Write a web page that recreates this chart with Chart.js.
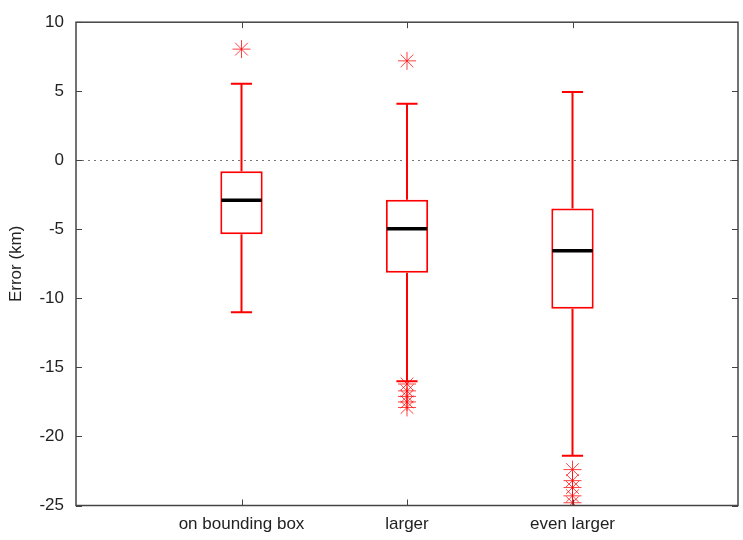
<!DOCTYPE html>
<html>
<head>
<meta charset="utf-8">
<script src="https://cdn.jsdelivr.net/npm/chart.js@4/dist/chart.umd.min.js"></script>
<style>
html,body{margin:0;padding:0;background:#fff;}
#wrap{width:743px;height:540px;}
</style>
</head>
<body>
<div id="wrap"><canvas id="c" width="743" height="540"></canvas></div>
<script>
const categories = ['on bounding box', 'larger', 'even larger'];
const whiskerLow  = [-11.0, -16.0, -21.4];
const q1          = [-5.35, -8.15, -10.75];
const median      = [-2.9, -4.95, -6.55];
const q3          = [-0.8, -2.85, -3.5];
const whiskerHigh = [5.55, 4.1, 4.95];
const outliers1 = [8.05];
const outliers2 = [7.2, -16.2, -16.7, -17.1, -17.5, -17.9];
const outliers3 = [-22.4, -23.2, -23.7, -24.3, -24.8];
const yTicks = [-25, -20, -15, -10, -5, 0, 5, 10];
const yTitle = 'Error (km)';

const labels = [''].concat(categories, ['']);
const outlierPoints = [];
[outliers1, outliers2, outliers3].forEach((arr, i) => {
  arr.forEach(v => outlierPoints.push({x: categories[i], y: v}));
});

const RED = '#ff0000';
const FONT = {family: "'Liberation Sans', Arial, sans-serif", size: 17};

const boxPlugin = {
  id: 'boxExtras',
  beforeDatasetsDraw(chart) {
    const {ctx, chartArea: a, scales: {x, y}} = chart;
    ctx.save();
    ctx.strokeStyle = '#777';
    ctx.lineWidth = 1;
    ctx.setLineDash([2, 4]);
    const y0 = Math.round(y.getPixelForValue(0)) + 0.5;
    ctx.beginPath(); ctx.moveTo(a.left, y0); ctx.lineTo(a.right, y0); ctx.stroke();
    ctx.restore();
    ctx.save();
    ctx.strokeStyle = RED;
    ctx.lineWidth = 2;
    const meta = chart.getDatasetMeta(0);
    categories.forEach((c, i) => {
      const bar = meta.data[i + 1];
      const cx = x.getPixelForValue(i + 1);
      const half = bar ? bar.width / 4 : 10;
      const yl = y.getPixelForValue(whiskerLow[i]);
      const yh = y.getPixelForValue(whiskerHigh[i]);
      ctx.beginPath();
      ctx.moveTo(cx, y.getPixelForValue(q3[i])); ctx.lineTo(cx, yh);
      ctx.moveTo(cx, y.getPixelForValue(q1[i])); ctx.lineTo(cx, yl);
      ctx.moveTo(cx - half, yh); ctx.lineTo(cx + half, yh);
      ctx.moveTo(cx - half, yl); ctx.lineTo(cx + half, yl);
      ctx.stroke();
    });
    ctx.restore();
  },
  afterDatasetsDraw(chart) {
    const {ctx, scales: {x, y}} = chart;
    const meta = chart.getDatasetMeta(0);
    ctx.save();
    ctx.strokeStyle = '#000';
    ctx.lineWidth = 3.5;
    categories.forEach((c, i) => {
      const bar = meta.data[i + 1];
      const cx = x.getPixelForValue(i + 1);
      const hw = bar.width / 2;
      const ym = y.getPixelForValue(median[i]);
      ctx.beginPath(); ctx.moveTo(cx - hw + 1, ym); ctx.lineTo(cx + hw - 1, ym); ctx.stroke();
    });
    ctx.restore();
  },
  afterDraw(chart) {
    const {ctx, chartArea: a, scales: {x, y}} = chart;
    ctx.save();
    ctx.strokeStyle = '#444';
    ctx.lineWidth = 1.5;
    ctx.strokeRect(a.left, a.top, a.right - a.left, a.bottom - a.top);
    ctx.lineWidth = 1;
    ctx.beginPath();
    y.ticks.forEach(t => {
      const py = Math.round(y.getPixelForValue(t.value)) + 0.5;
      ctx.moveTo(a.left, py); ctx.lineTo(a.left + 6, py);
      ctx.moveTo(a.right, py); ctx.lineTo(a.right - 6, py);
    });
    categories.forEach((c, i) => {
      const px = Math.round(x.getPixelForValue(i + 1)) + 0.5;
      ctx.moveTo(px, a.bottom); ctx.lineTo(px, a.bottom - 6);
      ctx.moveTo(px, a.top); ctx.lineTo(px, a.top + 6);
    });
    ctx.stroke();
    ctx.restore();
  }
};

new Chart(document.getElementById('c'), {
  type: 'bar',
  data: {
    labels: labels,
    datasets: [
      {
        type: 'bar',
        data: [null].concat(categories.map((c, i) => [q1[i], q3[i]]), [null]),
        backgroundColor: '#ffffff',
        borderColor: RED,
        borderWidth: 2,
        borderSkipped: false,
        categoryPercentage: 1,
        barPercentage: 0.256,
        order: 2
      },
      {
        type: 'scatter',
        data: outlierPoints,
        pointStyle: 'star',
        pointRadius: 9,
        pointBorderWidth: 1,
        borderColor: 'rgba(255,0,0,0.75)',
        backgroundColor: 'rgba(255,0,0,0.75)',
        order: 1
      }
    ]
  },
  options: {
    responsive: false,
    animation: false,
    events: [],
    layout: {autoPadding: false, padding: {top: 21, right: 5, left: 0, bottom: 0}},
    plugins: {legend: {display: false}, tooltip: {enabled: false}},
    scales: {
      x: {
        type: 'category',
        offset: false,
        grid: {display: false, drawTicks: false},
        border: {display: false},
        ticks: {autoSkip: false, maxRotation: 0, minRotation: 0, padding: 9, color: '#222', font: FONT},
        afterFit(s) { s.height = 34.5; s.paddingRight = 0; s.paddingLeft = 0; }
      },
      y: {
        type: 'linear',
        min: -25, max: 10,
        grid: {display: false, drawTicks: false},
        border: {display: false},
        afterBuildTicks(s) { s.ticks = yTicks.map(v => ({value: v})); },
        ticks: {padding: 12, color: '#222', font: FONT},
        title: {display: true, text: yTitle, color: '#222', font: FONT, padding: {top: 6, bottom: 0}},
        afterFit(s) { s.width = 76; }
      }
    }
  },
  plugins: [boxPlugin]
});
</script>
</body>
</html>
